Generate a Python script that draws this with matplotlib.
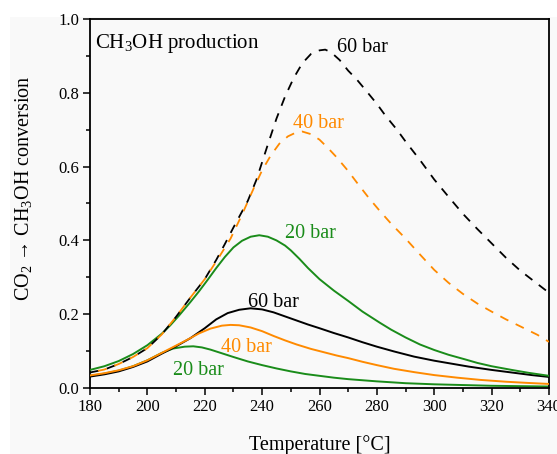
import matplotlib
matplotlib.use("Agg")
import matplotlib.pyplot as plt
from matplotlib.patches import Rectangle
from matplotlib.ticker import MultipleLocator, FormatStrFormatter

plt.rcParams['font.family'] = ['Liberation Serif', 'DejaVu Serif']
plt.rcParams['mathtext.fontset'] = 'custom'
plt.rcParams['mathtext.rm'] = 'Liberation Serif'
plt.rcParams['mathtext.it'] = 'Liberation Serif:italic'
plt.rcParams['mathtext.bf'] = 'Liberation Serif:bold'

# ---------------- data ----------------
# equilibrium (dashed) 60 bar
t_eq60 = [180, 185, 190, 195, 200, 205, 210, 215, 220, 224, 227, 230, 235, 238, 242, 245, 248,
          251, 254, 257, 260, 262, 264, 267, 270, 273, 276, 280, 283, 287, 290, 295, 300, 305,
          310, 315, 320, 325, 330, 335, 340]
v_eq60 = [0.042, 0.050, 0.065, 0.084, 0.108, 0.145, 0.193, 0.245, 0.295, 0.347, 0.390, 0.435,
          0.507, 0.564, 0.660, 0.730, 0.790, 0.840, 0.880, 0.905, 0.915, 0.917, 0.910, 0.889,
          0.860, 0.836, 0.808, 0.770, 0.738, 0.700, 0.668, 0.618, 0.565, 0.518, 0.472, 0.431,
          0.392, 0.353, 0.318, 0.288, 0.258]

# equilibrium (dashed) 40 bar
t_eq40 = [180, 185, 190, 195, 200, 205, 210, 215, 220, 225, 229, 233, 237, 240, 243, 246, 249,
          252, 254, 257, 260, 263, 266, 270, 273, 277, 281, 285, 290, 295, 300, 305, 310, 315,
          320, 325, 330, 336, 340]
v_eq40 = [0.042, 0.050, 0.065, 0.084, 0.108, 0.145, 0.193, 0.245, 0.295, 0.355, 0.405, 0.470,
          0.540, 0.590, 0.630, 0.662, 0.682, 0.693, 0.695, 0.688, 0.673, 0.650, 0.625, 0.588,
          0.557, 0.517, 0.480, 0.445, 0.405, 0.362, 0.320, 0.285, 0.255, 0.229, 0.207, 0.186,
          0.167, 0.144, 0.125]

# upper green 20 bar (solid)
t_g20u = [180, 185, 190, 195, 200, 205, 208, 211, 215, 218, 221, 224, 227, 230, 233, 236, 239,
          242, 245, 248, 250, 253, 256, 260, 265, 270, 275, 281, 285, 290, 295, 300, 305, 311,
          315, 320, 327, 333, 340]
v_g20u = [0.049, 0.059, 0.073, 0.092, 0.116, 0.147, 0.170, 0.196, 0.233, 0.262, 0.293, 0.325,
          0.355, 0.381, 0.399, 0.410, 0.414, 0.410, 0.400, 0.386, 0.373, 0.350, 0.325, 0.295,
          0.264, 0.236, 0.207, 0.177, 0.158, 0.137, 0.118, 0.103, 0.090, 0.077, 0.068, 0.059,
          0.049, 0.041, 0.033]

# solid 60 bar
t_s60 = [180, 185, 190, 195, 200, 205, 210, 215, 220, 224, 228, 232, 236, 240, 244, 248, 252,
         256, 260, 265, 270, 275, 280, 286, 293, 300, 306, 312, 320, 327, 334, 340]
v_s60 = [0.031, 0.037, 0.045, 0.057, 0.072, 0.093, 0.113, 0.135, 0.162, 0.186, 0.203, 0.212,
         0.216, 0.213, 0.205, 0.194, 0.183, 0.172, 0.162, 0.149, 0.137, 0.124, 0.112, 0.099,
         0.085, 0.074, 0.066, 0.058, 0.049, 0.042, 0.035, 0.030]

# solid 40 bar
t_s40 = [180, 185, 190, 195, 200, 205, 210, 214, 218, 222, 226, 229, 232, 236, 240, 244, 248,
         252, 257, 262, 266, 270, 275, 280, 286, 293, 300, 308, 316, 325, 332, 340]
v_s40 = [0.034, 0.040, 0.048, 0.059, 0.075, 0.095, 0.115, 0.131, 0.148, 0.161, 0.169, 0.171,
         0.170, 0.164, 0.154, 0.141, 0.129, 0.118, 0.106, 0.096, 0.088, 0.081, 0.071, 0.062,
         0.052, 0.043, 0.035, 0.028, 0.022, 0.017, 0.014, 0.011]

# lower green 20 bar (solid)
t_g20l = [180, 185, 190, 195, 200, 205, 209, 213, 216, 219, 222, 226, 230, 235, 240, 245, 250,
          255, 260, 265, 270, 280, 290, 300, 310, 320, 330, 340]
v_g20l = [0.033, 0.039, 0.047, 0.059, 0.075, 0.095, 0.107, 0.112, 0.113, 0.110, 0.104, 0.094,
          0.084, 0.072, 0.062, 0.053, 0.045, 0.038, 0.033, 0.028, 0.024, 0.018, 0.013, 0.010,
          0.008, 0.006, 0.005, 0.004]

x_ticks = [180, 200, 220, 240, 260, 280, 300, 320, 340]
y_ticks = [0.0, 0.2, 0.4, 0.6, 0.8, 1.0]

BLACK = '#000000'
ORANGE = '#ff8a00'
GREEN = '#1a8c1a'
BG = '#f9f9f9'

# ---------------- figure ----------------
W, H = 557, 454
fig = plt.figure(figsize=(W / 100, H / 100), dpi=100, facecolor='white')
fig.patches.append(Rectangle((10 / W, 0), 1 - 10 / W, 1 - 17 / H, transform=fig.transFigure,
                             facecolor=BG, edgecolor='none', zorder=-10))
ax = fig.add_axes([90 / W, 1 - 388 / H, (549 - 90) / W, (388 - 19) / H])
ax.set_facecolor(BG)

lw_solid = 1.4
common = dict(solid_joinstyle='round', dash_joinstyle='round')
ax.plot(t_g20l, v_g20l, color=GREEN, lw=lw_solid, zorder=2, **common)
ax.plot(t_s60, v_s60, color=BLACK, lw=lw_solid, zorder=3, **common)
ax.plot(t_s40, v_s40, color=ORANGE, lw=lw_solid, zorder=3, **common)
ax.plot(t_g20u, v_g20u, color=GREEN, lw=lw_solid, zorder=4, **common)
ax.plot(t_eq60, v_eq60, color=BLACK, lw=1.3, linestyle=(0, (5, 4.5)), zorder=5, **common)
ax.plot(t_eq40, v_eq40, color=ORANGE, lw=1.3, linestyle=(5, (5, 4.5)), zorder=5, **common)

ax.set_xlim(180, 340)
ax.set_ylim(0, 1.0)
ax.set_xticks(x_ticks)
ax.set_yticks(y_ticks)
ax.xaxis.set_minor_locator(MultipleLocator(10))
ax.yaxis.set_minor_locator(MultipleLocator(0.1))
ax.yaxis.set_major_formatter(FormatStrFormatter('%.1f'))
ax.tick_params(which='both', direction='out', top=False, right=False, width=1.1,
               labelsize=12, pad=3)
ax.tick_params(which='major', length=5)
ax.tick_params(which='minor', length=3)
for s in ax.spines.values():
    s.set_linewidth(1.3)

ax.set_xlabel('Temperature [°C]', fontsize=14.5)
ax.set_ylabel('CO$_2$ → CH$_3$OH conversion', fontsize=14.5)
ax.xaxis.set_label_coords(0.5, -0.127)
ax.yaxis.set_label_coords(-0.122, 0.542)

ax.text(0.011, 0.9206, 'CH$_3$OH production', transform=ax.transAxes, fontsize=15,
        va='baseline', ha='left')

lab = dict(fontsize=14.5, va='baseline', ha='left')
ax.text(266.1, 0.911, '60 bar', color=BLACK, **lab)
ax.text(250.6, 0.705, '40 bar', color=ORANGE, **lab)
ax.text(248.0, 0.406, '20 bar', color=GREEN, **lab)
ax.text(235.2, 0.220, '60 bar', color=BLACK, **lab)
ax.text(225.7, 0.098, '40 bar', color=ORANGE, **lab)
ax.text(208.8, 0.035, '20 bar', color=GREEN, **lab)

fig.savefig('out.png', dpi=100, facecolor=fig.get_facecolor())
